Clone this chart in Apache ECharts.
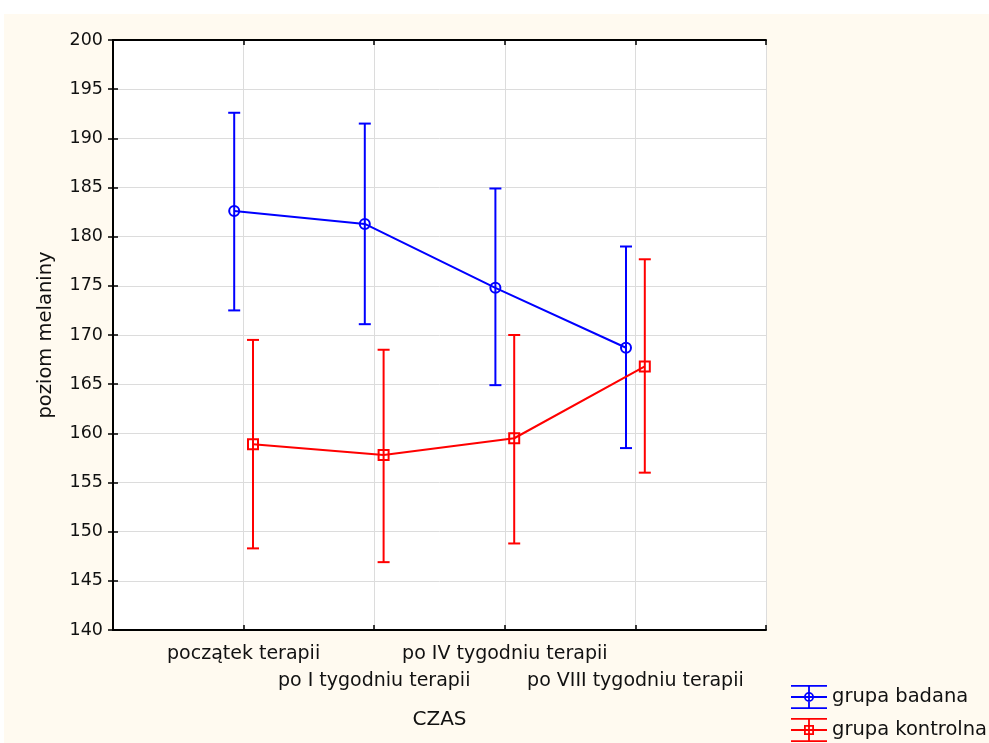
<!DOCTYPE html>
<html>
<head>
<meta charset="utf-8">
<script src="https://cdn.jsdelivr.net/npm/echarts@6/dist/echarts.min.js"></script>
<style>
  html, body { margin: 0; padding: 0; background: #fff; }
  #wrap { position: absolute; left: 4px; top: 14px; width: 985px; height: 729px; background: #fffaf0; }
  #main { width: 985px; height: 729px; }
</style>
</head>
<body>
<div id="wrap"><div id="main"></div></div>
<script>
// categories on the time axis
var categories = ['początek terapii', 'po I tygodniu terapii', 'po IV tygodniu terapii', 'po VIII tygodniu terapii'];
var seriesNames = ['grupa badana', 'grupa kontrolna'];

// grupa badana: mean and error bar ends
var badanaMean = [182.6, 181.3, 174.8, 168.7];
var badanaLow = [172.5, 171.1, 164.9, 158.5];
var badanaHigh = [192.6, 191.5, 184.9, 179.0];

// grupa kontrolna
var kontrolnaMean = [158.9, 157.8, 159.5, 166.8];
var kontrolnaLow = [148.3, 146.9, 148.8, 156.0];
var kontrolnaHigh = [169.5, 168.5, 170.0, 177.7];

var yTicks = [140, 145, 150, 155, 160, 165, 170, 175, 180, 185, 190, 195, 200];

var blue = '#0000ff';
var red = '#ff0000';
var shift = 0.072; // horizontal offset of the two groups around each category
var lw = 2;

function pts(mean, dx) {
  return mean.map(function (v, i) { return [i + 1 + dx, v]; });
}
function bars(low, high, dx) {
  return low.map(function (v, i) { return [i + 1 + dx, v, high[i]]; });
}

function errorBar(color) {
  return function (params, api) {
    var x = api.value(0);
    var lo = api.coord([x, api.value(1)]);
    var hi = api.coord([x, api.value(2)]);
    var hw = 6;
    var st = { stroke: color, lineWidth: lw };
    return {
      type: 'group',
      children: [
        { type: 'line', shape: { x1: lo[0], y1: lo[1], x2: hi[0], y2: hi[1] }, style: st },
        { type: 'line', shape: { x1: hi[0] - hw, y1: hi[1], x2: hi[0] + hw, y2: hi[1] }, style: st },
        { type: 'line', shape: { x1: lo[0] - hw, y1: lo[1], x2: lo[0] + hw, y2: lo[1] }, style: st }
      ]
    };
  };
}

// legend icons: error-bar glyph with a marker
var rects = 'M0 0 L36 0 L36 1.8 L0 1.8 Z M0 11.1 L36 11.1 L36 12.9 L0 12.9 Z M0 22.2 L36 22.2 L36 24 L0 24 Z M17.1 0 L18.9 0 L18.9 24 L17.1 24 Z ';
var ringIcon = 'path://' + rects +
  'M23 12 A5 5 0 1 1 13 12 A5 5 0 1 1 23 12 Z M21.2 12 A3.2 3.2 0 1 0 14.8 12 A3.2 3.2 0 1 0 21.2 12 Z';
var squareIcon = 'path://' + rects +
  'M13 7 L23 7 L23 17 L13 17 Z M14.8 8.8 L14.8 15.2 L21.2 15.2 L21.2 8.8 Z';

var chart = echarts.init(document.getElementById('main'));

var axisLineStyle = { color: '#000', width: 2 };
var tickStyle = { color: '#000', width: 1.5 };

chart.setOption({
  animation: false,
  textStyle: { fontFamily: 'DejaVu Sans, sans-serif' },
  grid: { left: 109, top: 26, right: 223, bottom: 113, show: true, backgroundColor: '#fff', borderWidth: 0 },
  legend: {
    left: 787,
    top: 671,
    padding: 0,
    orient: 'vertical',
    itemWidth: 36,
    itemHeight: 24,
    itemGap: 9,
    textStyle: { fontSize: 19.5, color: '#111' },
    data: [
      { name: seriesNames[0], icon: ringIcon, itemStyle: { color: blue, borderWidth: 0 } },
      { name: seriesNames[1], icon: squareIcon, itemStyle: { color: red, borderWidth: 0 } }
    ]
  },
  xAxis: [{
    type: 'value',
    min: 0,
    max: categories.length + 1,
    interval: 1,
    name: 'CZAS',
    nameLocation: 'middle',
    nameGap: 80,
    nameTextStyle: { fontSize: 20, color: '#111' },
    axisLine: { lineStyle: axisLineStyle },
    axisTick: { inside: true, length: 5, lineStyle: tickStyle },
    splitLine: { show: true, lineStyle: { color: '#dcdcdc', width: 1 } },
    axisLabel: {
      fontSize: 19,
      color: '#111',
      margin: 11,
      lineHeight: 27,
      formatter: function (v) {
        var i = Math.round(v) - 1;
        if (i < 0 || i >= categories.length) return '';
        return i % 2 ? '\n' + categories[i] : categories[i];
      }
    }
  }, {
    type: 'value',
    position: 'top',
    min: 0,
    max: categories.length + 1,
    interval: 1,
    axisLine: { lineStyle: axisLineStyle },
    axisTick: { inside: true, length: 5, lineStyle: tickStyle },
    axisLabel: { show: false },
    splitLine: { show: false }
  }],
  yAxis: [{
    type: 'value',
    min: yTicks[0],
    max: yTicks[yTicks.length - 1],
    interval: 5,
    name: 'poziom melaniny',
    nameLocation: 'middle',
    nameGap: 57,
    nameTextStyle: { fontSize: 19.5, color: '#111' },
    axisLine: { show: true, lineStyle: axisLineStyle },
    axisTick: { show: true, inside: true, length: 5, lineStyle: tickStyle },
    splitLine: { show: true, lineStyle: { color: '#dcdcdc', width: 1 } },
    axisLabel: { fontSize: 17.5, color: '#111', margin: 10 }
  }, {
    type: 'value',
    position: 'right',
    min: yTicks[0],
    max: yTicks[yTicks.length - 1],
    interval: 5,
    axisLine: { show: true, lineStyle: axisLineStyle },
    axisTick: { show: true, inside: true, length: 5, lineStyle: tickStyle },
    axisLabel: { show: false },
    splitLine: { show: false }
  }],
  series: [
    {
      name: seriesNames[0],
      type: 'custom',
      renderItem: errorBar(blue),
      data: bars(badanaLow, badanaHigh, -shift),
      encode: { x: 0, y: [1, 2] },
      z: 2
    },
    {
      name: seriesNames[1],
      type: 'custom',
      renderItem: errorBar(red),
      data: bars(kontrolnaLow, kontrolnaHigh, shift),
      encode: { x: 0, y: [1, 2] },
      z: 2
    },
    {
      name: seriesNames[0],
      type: 'line',
      data: pts(badanaMean, -shift),
      symbol: 'circle',
      symbolSize: 10,
      itemStyle: { color: 'rgba(0,0,0,0)', borderColor: blue, borderWidth: lw },
      lineStyle: { color: blue, width: lw },
      z: 3
    },
    {
      name: seriesNames[1],
      type: 'line',
      data: pts(kontrolnaMean, shift),
      symbol: 'rect',
      symbolSize: 10,
      itemStyle: { color: 'rgba(0,0,0,0)', borderColor: red, borderWidth: lw },
      lineStyle: { color: red, width: lw },
      z: 3
    }
  ]
});
</script>
</body>
</html>
